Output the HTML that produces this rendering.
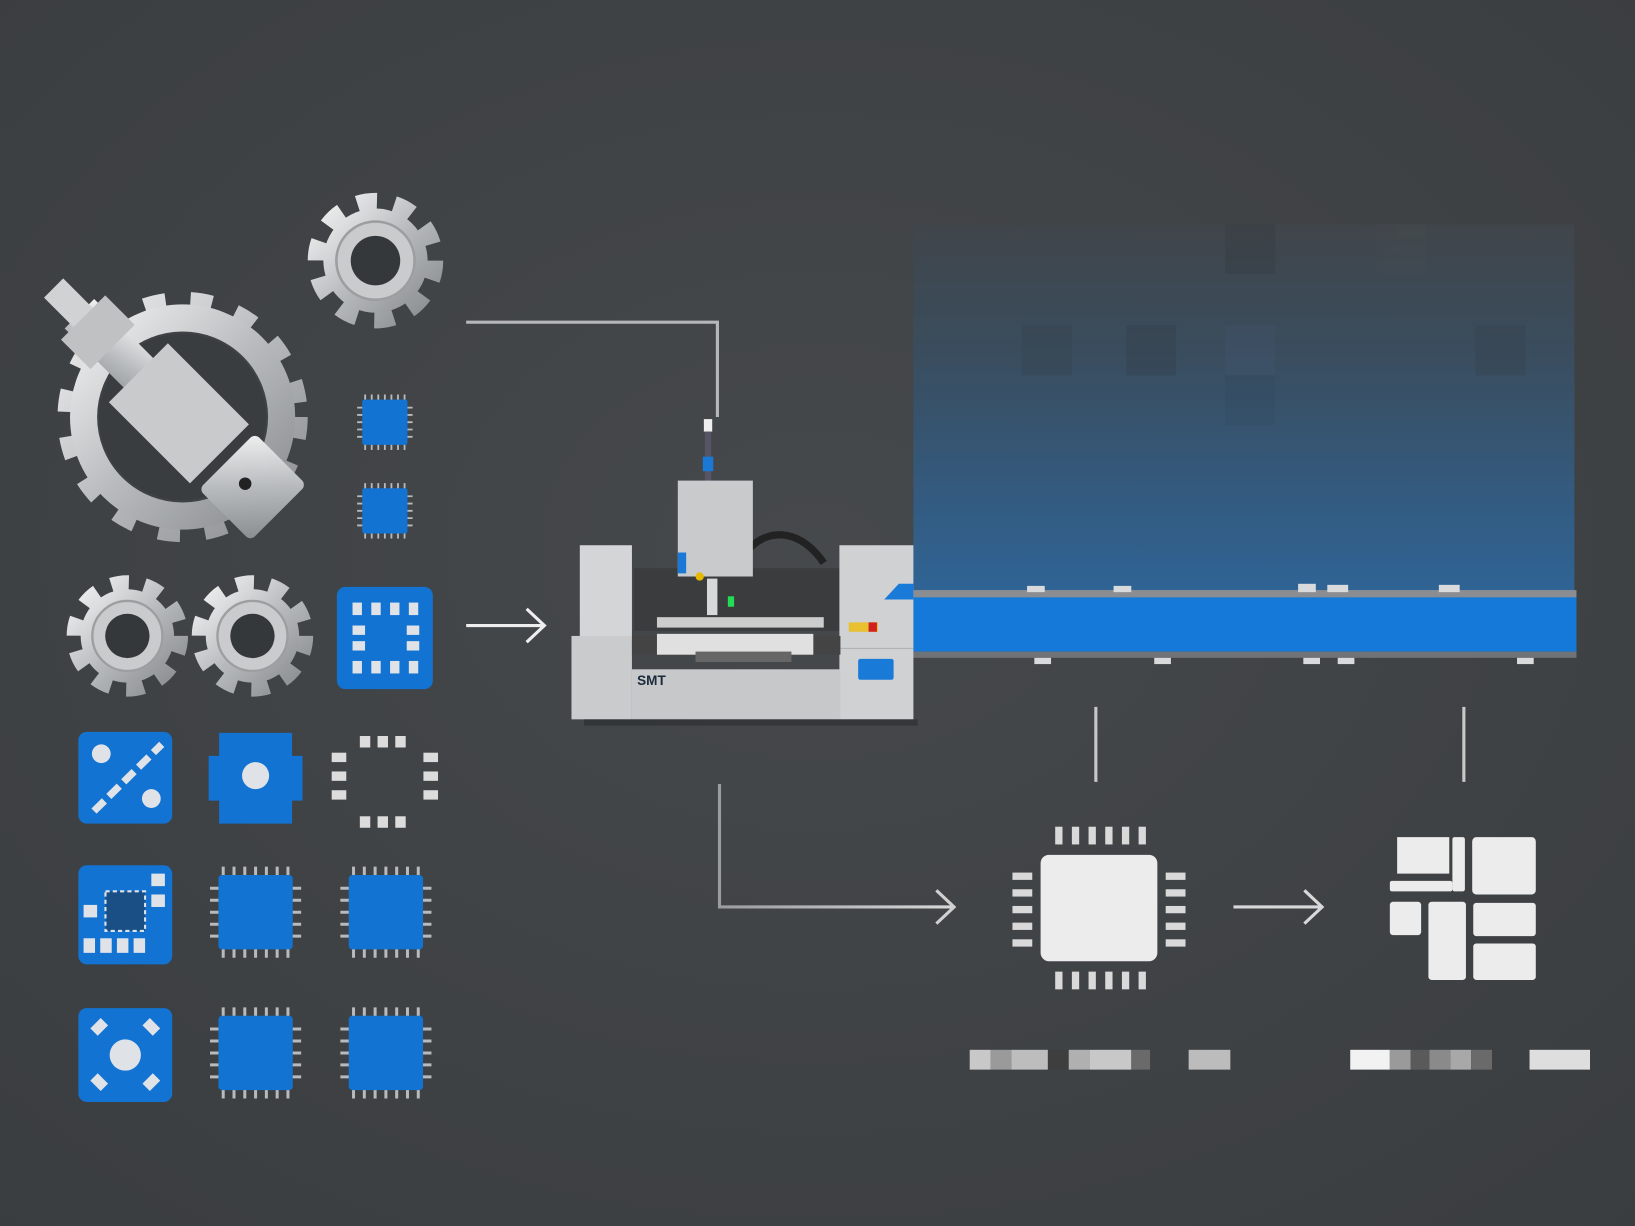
<!DOCTYPE html>
<html><head><meta charset="utf-8"><style>
html,body{margin:0;padding:0;background:#404346;}
svg{display:block;}
</style></head><body>
<svg width="1635" height="1226" viewBox="0 0 1568 1176" xmlns="http://www.w3.org/2000/svg">
<defs>
<radialGradient id="bg" cx="0.5" cy="0.45" r="0.75">
<stop offset="0" stop-color="#46494c"/><stop offset="1" stop-color="#3a3d40"/></radialGradient>
<linearGradient id="panel" x1="0" y1="0" x2="0" y2="1">
<stop offset="0" stop-color="#40454a"/><stop offset="0.35" stop-color="#3a4d5e"/><stop offset="1" stop-color="#2f6496"/></linearGradient>
<linearGradient id="metal" x1="0" y1="0" x2="1" y2="1">
<stop offset="0" stop-color="#f0f0f0"/><stop offset="0.5" stop-color="#b8bbbe"/><stop offset="1" stop-color="#8a8d90"/></linearGradient>
<linearGradient id="line" x1="0" y1="0" x2="1" y2="0">
<stop offset="0" stop-color="#9a9c9e"/><stop offset="1" stop-color="#d8d8d8"/></linearGradient>
<g id="gear">
<circle r="42" fill="none" stroke="url(#metal)" stroke-width="20" stroke-dasharray="14 12.4"/>
<circle r="40" fill="url(#metal)"/>
<circle r="30" fill="#c9cbcd" stroke="#9c9ea0" stroke-width="2"/>
<circle r="19" fill="#35383b"/>
</g>
<g id="chip">
<g stroke="#b8babc" stroke-width="2.5">
<line x1="-27" y1="-38" x2="-27" y2="38"/><line x1="-18" y1="-38" x2="-18" y2="38"/><line x1="-9" y1="-38" x2="-9" y2="38"/><line x1="0" y1="-38" x2="0" y2="38"/><line x1="9" y1="-38" x2="9" y2="38"/><line x1="18" y1="-38" x2="18" y2="38"/><line x1="27" y1="-38" x2="27" y2="38"/>
<line x1="-38" y1="-20" x2="38" y2="-20"/><line x1="-38" y1="-10" x2="38" y2="-10"/><line x1="-38" y1="0" x2="38" y2="0"/><line x1="-38" y1="10" x2="38" y2="10"/><line x1="-38" y1="20" x2="38" y2="20"/>
</g>
<rect x="-31" y="-31" width="62" height="62" rx="3" fill="#1273d2"/>
</g>
</defs>
<rect width="1568" height="1176" fill="url(#bg)"/>

<rect x="876" y="215" width="634" height="355" fill="url(#panel)"/>
<g opacity="0.2">
<rect x="1175" y="215" width="48" height="48" fill="#2e3236"/>
<rect x="1320" y="215" width="48" height="48" fill="#4a4e52"/>
<rect x="1080" y="312" width="48" height="48" fill="#2e3438"/>
<rect x="1175" y="312" width="48" height="48" fill="#4a5a7a"/>
<rect x="980" y="312" width="48" height="48" fill="#333a40"/>
<rect x="1415" y="312" width="48" height="48" fill="#33393f"/>
<rect x="1175" y="360" width="48" height="48" fill="#2f4558"/>
</g>
<rect x="876" y="566" width="636" height="8" fill="#8a8e92"/>
<rect x="876" y="573" width="636" height="52" fill="#1479d8"/>
<rect x="876" y="625" width="636" height="6" fill="#6f7276"/>
<g fill="#d8dadc">
<rect x="985" y="562" width="17" height="6"/><rect x="1068" y="562" width="17" height="6"/><rect x="1245" y="560" width="17" height="8"/><rect x="1273" y="561" width="20" height="7"/><rect x="1380" y="561" width="20" height="7"/>
<rect x="992" y="631" width="16" height="6"/><rect x="1107" y="631" width="16" height="6"/><rect x="1250" y="631" width="16" height="6"/><rect x="1283" y="631" width="16" height="6"/><rect x="1455" y="631" width="16" height="6"/>
</g>

<g stroke="url(#line)" stroke-width="3" fill="none">
<polyline points="447,309 688,309 688,400" stroke="#b5b7b9"/>
<line x1="447" y1="600" x2="522" y2="600" stroke="#eeeeee"/>
<polyline points="505,584 522,600 505,616" stroke="#eeeeee"/>
<polyline points="690,752 690,870 915,870"/>
<polyline points="898,854 915,870 898,886" stroke="#d0d0d0"/>
<line x1="1183" y1="870" x2="1268" y2="870" stroke="#d8d8d8"/>
<polyline points="1251,854 1268,870 1251,886" stroke="#d8d8d8"/>
<line x1="1051" y1="678" x2="1051" y2="750" stroke="#c8c8c8"/>
<line x1="1404" y1="678" x2="1404" y2="750" stroke="#c8c8c8"/>
</g>

<rect x="675" y="402" width="8" height="12" fill="#eee"/>
<rect x="676" y="414" width="6" height="48" fill="#556"/>
<rect x="674" y="438" width="10" height="14" fill="#1a78d6"/>
<path d="M720,525 C740,505 770,510 790,540" stroke="#222" stroke-width="7" fill="none"/>
<rect x="608" y="545" width="210" height="60" fill="#3a3c3e"/>
<rect x="630" y="592" width="160" height="10" fill="#ccc"/>
<rect x="650" y="461" width="72" height="92" fill="#c8cacc"/>
<rect x="650" y="530" width="8" height="20" fill="#1a78d6"/>
<circle cx="671" cy="553" r="4" fill="#e6b800"/>
<rect x="698" y="572" width="6" height="10" fill="#22dd55"/>
<rect x="678" y="555" width="10" height="35" fill="#d8d8d8"/>
<rect x="556" y="523" width="50" height="90" fill="#d3d5d7"/>
<rect x="548" y="610" width="58" height="80" fill="#c9cbcd"/>
<rect x="805" y="523" width="71" height="167" fill="#cfd1d3"/>
<polygon points="848,575 876,575 876,560 862,560" fill="#1a7ad8"/>
<rect x="606" y="610" width="200" height="18" fill="#444"/>
<rect x="630" y="608" width="150" height="20" fill="#e0e0e0"/>
<rect x="606" y="642" width="200" height="48" fill="#c6c8ca"/>
<rect x="667" y="625" width="92" height="10" fill="#666"/>
<line x1="806" y1="622" x2="876" y2="622" stroke="#b0b2b4" stroke-width="1"/>
<rect x="814" y="597" width="28" height="9" fill="#e8c030"/>
<rect x="833" y="597" width="8" height="9" fill="#d02020"/>
<rect x="823" y="632" width="34" height="20" rx="2" fill="#1a7ad8"/>
<text x="611" y="657" font-family="Liberation Sans, sans-serif" font-weight="bold" font-size="13" fill="#1a2a3a">SMT</text>
<rect x="560" y="690" width="320" height="6" fill="#2a2c2e" opacity="0.6"/>

<g transform="translate(175,400)">
<circle r="108" fill="none" stroke="url(#metal)" stroke-width="24" stroke-dasharray="20 23"/>
<circle r="95" fill="none" stroke="url(#metal)" stroke-width="26"/>
<circle r="80" fill="#3a3d40"/>
<g transform="rotate(45)">
<rect x="-140" y="-20" width="160" height="40" fill="url(#metal)"/>
<rect x="-60" y="-40" width="110" height="80" fill="#c8cacc"/>
<rect x="-175" y="-13" width="40" height="26" fill="#d0d2d4"/>
<rect x="-135" y="-30" width="40" height="60" fill="#bfc1c3"/>
<rect x="60" y="-38" width="70" height="76" rx="6" fill="url(#metal)"/>
</g>
<circle cx="60" cy="64" r="6" fill="#222"/>
</g>
<use href="#gear" transform="translate(360,250) scale(1.25)"/>
<use href="#gear" transform="translate(122,610) scale(1.12)"/>
<use href="#gear" transform="translate(242,610) scale(1.12)"/>

<use href="#chip" transform="translate(369,405) scale(0.7)"/>
<use href="#chip" transform="translate(369,490) scale(0.7)"/>
<use href="#chip" transform="translate(245,875) scale(1.15)"/>
<use href="#chip" transform="translate(370,875) scale(1.15)"/>
<use href="#chip" transform="translate(245,1010) scale(1.15)"/>
<use href="#chip" transform="translate(370,1010) scale(1.15)"/>

<rect x="323" y="563" width="92" height="98" rx="8" fill="#1273d2"/>
<g fill="#dfe3e8">
<rect x="338" y="578" width="9" height="12"/><rect x="356" y="578" width="9" height="12"/><rect x="374" y="578" width="9" height="12"/><rect x="392" y="578" width="9" height="12"/>
<rect x="338" y="634" width="9" height="12"/><rect x="356" y="634" width="9" height="12"/><rect x="374" y="634" width="9" height="12"/><rect x="392" y="634" width="9" height="12"/>
<rect x="338" y="600" width="12" height="9"/><rect x="338" y="615" width="12" height="9"/><rect x="390" y="600" width="12" height="9"/><rect x="390" y="615" width="12" height="9"/>
</g>
<rect x="75" y="702" width="90" height="88" rx="8" fill="#1273d2"/>
<g fill="#dfe3e8"><circle cx="97" cy="723" r="9"/><circle cx="145" cy="766" r="9"/>
<line x1="90" y1="778" x2="155" y2="714" stroke="#dfe3e8" stroke-width="7" stroke-dasharray="14 6"/></g>
<path d="M210,703 h70 v22 h10 v43 h-10 v22 h-70 v-22 h-10 v-43 h10z" fill="#1273d2"/>
<circle cx="245" cy="744" r="13" fill="#dfe3e8"/>
<g fill="#dcdcdc">
<rect x="345" y="706" width="10" height="11"/><rect x="362" y="706" width="10" height="11"/><rect x="379" y="706" width="10" height="11"/>
<rect x="345" y="783" width="10" height="11"/><rect x="362" y="783" width="10" height="11"/><rect x="379" y="783" width="10" height="11"/>
<rect x="318" y="722" width="14" height="9"/><rect x="318" y="740" width="14" height="9"/><rect x="318" y="758" width="14" height="9"/>
<rect x="406" y="722" width="14" height="9"/><rect x="406" y="740" width="14" height="9"/><rect x="406" y="758" width="14" height="9"/>
</g>
<rect x="75" y="830" width="90" height="95" rx="8" fill="#1273d2"/>
<rect x="101" y="855" width="38" height="38" fill="#1a4f86" stroke="#dfe3e8" stroke-width="2" stroke-dasharray="4 3"/>
<g fill="#dfe3e8"><rect x="80" y="900" width="11" height="14"/><rect x="96" y="900" width="11" height="14"/><rect x="112" y="900" width="11" height="14"/><rect x="128" y="900" width="11" height="14"/>
<rect x="145" y="838" width="13" height="12"/><rect x="145" y="858" width="13" height="12"/><rect x="80" y="868" width="13" height="12"/></g>
<rect x="75" y="967" width="90" height="90" rx="8" fill="#1273d2"/>
<g fill="#dfe3e8"><circle cx="120" cy="1012" r="15"/>
<rect x="88" y="980" width="14" height="10" transform="rotate(-45 95 985)"/><rect x="138" y="980" width="14" height="10" transform="rotate(45 145 985)"/>
<rect x="88" y="1033" width="14" height="10" transform="rotate(45 95 1038)"/><rect x="138" y="1033" width="14" height="10" transform="rotate(-45 145 1038)"/></g>

<g fill="#d9d9d9">
<rect x="1012" y="793" width="7" height="17"/><rect x="1028" y="793" width="7" height="17"/><rect x="1044" y="793" width="7" height="17"/><rect x="1060" y="793" width="7" height="17"/><rect x="1076" y="793" width="7" height="17"/><rect x="1092" y="793" width="7" height="17"/>
<rect x="1012" y="932" width="7" height="17"/><rect x="1028" y="932" width="7" height="17"/><rect x="1044" y="932" width="7" height="17"/><rect x="1060" y="932" width="7" height="17"/><rect x="1076" y="932" width="7" height="17"/><rect x="1092" y="932" width="7" height="17"/>
<rect x="971" y="837" width="19" height="7"/><rect x="971" y="853" width="19" height="7"/><rect x="971" y="869" width="19" height="7"/><rect x="971" y="885" width="19" height="7"/><rect x="971" y="901" width="19" height="7"/>
<rect x="1118" y="837" width="19" height="7"/><rect x="1118" y="853" width="19" height="7"/><rect x="1118" y="869" width="19" height="7"/><rect x="1118" y="885" width="19" height="7"/><rect x="1118" y="901" width="19" height="7"/>
</g>
<rect x="998" y="820" width="112" height="102" rx="8" fill="#ececec"/>

<g fill="#ececec">
<path d="M1340,803 h50 v35 h-50z"/>
<rect x="1333" y="845" width="60" height="10" rx="2"/>
<rect x="1393" y="803" width="12" height="52" rx="2"/>
<rect x="1412" y="803" width="61" height="55" rx="4"/>
<rect x="1333" y="865" width="30" height="32" rx="3"/>
<rect x="1370" y="865" width="36" height="75" rx="3"/>
<rect x="1413" y="866" width="60" height="32" rx="3"/>
<rect x="1413" y="905" width="60" height="35" rx="3"/>
</g>

<g>
<rect x="930" y="1007" width="20" height="19" fill="#c8c8c8"/><rect x="950" y="1007" width="20" height="19" fill="#9a9a9a"/><rect x="970" y="1007" width="35" height="19" fill="#bdbdbd"/><rect x="1005" y="1007" width="20" height="19" fill="#3e3e3e"/><rect x="1025" y="1007" width="20" height="19" fill="#b0b0b0"/><rect x="1045" y="1007" width="40" height="19" fill="#c8c8c8"/><rect x="1085" y="1007" width="18" height="19" fill="#6a6a6a"/><rect x="1140" y="1007" width="40" height="19" fill="#bcbcbc"/>
<rect x="1295" y="1007" width="38" height="19" fill="#f2f2f2"/><rect x="1333" y="1007" width="20" height="19" fill="#9a9a9a"/><rect x="1353" y="1007" width="18" height="19" fill="#5a5a5a"/><rect x="1371" y="1007" width="20" height="19" fill="#8a8a8a"/><rect x="1391" y="1007" width="20" height="19" fill="#a8a8a8"/><rect x="1411" y="1007" width="20" height="19" fill="#6a6a6a"/><rect x="1467" y="1007" width="58" height="19" fill="#dedede"/>
</g>
</svg>
</body></html>
